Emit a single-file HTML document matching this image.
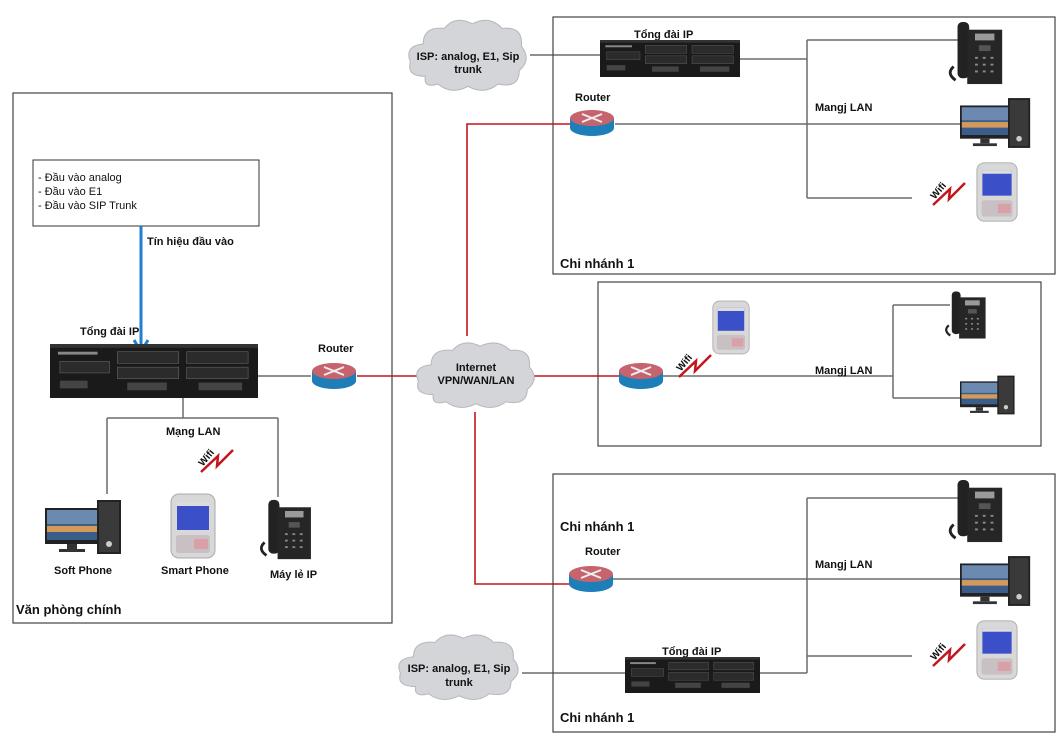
<!DOCTYPE html>
<html><head><meta charset="utf-8"><style>
html,body{margin:0;padding:0;background:#fff}
svg{display:block}
text{font-family:"Liberation Sans",Arial,sans-serif;font-weight:bold;font-size:11px;fill:#111}
</style></head><body>
<svg width="1059" height="743" viewBox="0 0 1059 743" xmlns="http://www.w3.org/2000/svg">
<defs>
<symbol id="pbx" viewBox="0 0 210 56" preserveAspectRatio="none">
<rect x="0" y="0" width="210" height="56" fill="#1a1a1a"/>
<rect x="0" y="0" width="210" height="4" fill="#333"/>
<rect x="8" y="8" width="40" height="3" fill="#888"/>
<rect x="10" y="18" width="50" height="12" fill="#2b2b2b" stroke="#666" stroke-width="0.6"/>
<rect x="68" y="8" width="62" height="12" fill="#2b2b2b" stroke="#666" stroke-width="0.6"/>
<rect x="68" y="24" width="62" height="12" fill="#2b2b2b" stroke="#666" stroke-width="0.6"/>
<rect x="138" y="8" width="62" height="12" fill="#2b2b2b" stroke="#666" stroke-width="0.6"/>
<rect x="138" y="24" width="62" height="12" fill="#2b2b2b" stroke="#666" stroke-width="0.6"/>
<rect x="78" y="40" width="40" height="8" fill="#444"/>
<rect x="150" y="40" width="44" height="8" fill="#444"/>
<rect x="10" y="38" width="28" height="8" fill="#444"/>
</symbol>
<symbol id="router" viewBox="0 0 46 30">
<path d="M1 10 V20 A22 8 0 0 0 45 20 V10 Z" fill="#1e7fb8"/>
<ellipse cx="23" cy="10" rx="22" ry="8" fill="#c6636c"/>
<path d="M13 6 L33 14 M33 6 L13 14" stroke="#eee" stroke-width="2"/>
</symbol>
<symbol id="phone" viewBox="0 0 60 68">
<path d="M10 62 Q0 55 8 48" stroke="#222" stroke-width="3" fill="none"/>
<rect x="12" y="2" width="12" height="58" rx="5" fill="#222"/>
<rect x="22" y="10" width="36" height="56" fill="#262626"/>
<rect x="30" y="14" width="20" height="7" fill="#9a9a9a"/>
<rect x="34" y="26" width="12" height="6" fill="#555"/>
<g fill="#888"><rect x="30" y="38" width="3" height="2"/><rect x="38" y="38" width="3" height="2"/><rect x="46" y="38" width="3" height="2"/><rect x="30" y="45" width="3" height="2"/><rect x="38" y="45" width="3" height="2"/><rect x="46" y="45" width="3" height="2"/><rect x="30" y="52" width="3" height="2"/><rect x="38" y="52" width="3" height="2"/><rect x="46" y="52" width="3" height="2"/></g>
</symbol>
<symbol id="pc" viewBox="0 0 78 54">
<rect x="0" y="8" width="54" height="36" fill="#222"/>
<rect x="2" y="10" width="50" height="30" fill="#3b5d8a"/>
<rect x="2" y="10" width="50" height="14" fill="#6c89b0"/>
<rect x="2" y="26" width="50" height="6" fill="#d49a5a"/>
<rect x="22" y="44" width="10" height="5" fill="#333"/>
<rect x="14" y="49" width="26" height="3" fill="#333"/>
<rect x="52" y="0" width="24" height="54" fill="#222"/>
<rect x="54" y="2" width="20" height="50" fill="#3a3a3a"/>
<circle cx="64" cy="44" r="3" fill="#ccc"/>
</symbol>
<symbol id="smart" viewBox="0 0 46 66">
<rect x="1" y="1" width="44" height="64" rx="8" fill="#d8d8d8" stroke="#aaa"/>
<rect x="7" y="9" width="32" height="28" fill="#3b4fc8"/>
<rect x="7" y="9" width="32" height="4" fill="#ddd"/>
<rect x="6" y="42" width="34" height="18" rx="3" fill="#c9c0c4"/>
<rect x="24" y="46" width="14" height="10" fill="#d9a0a8"/>
</symbol>
<g id="wifi"><path d="M0 20 L17 4 L16 14 L32 -2" stroke="#c3161c" stroke-width="2.5" fill="none"/><text x="-4" y="10" transform="rotate(-50 4 6)" style="font-size:10px">Wifi</text></g>
<symbol id="cloud" viewBox="0 0 120 70" preserveAspectRatio="none">
<path d="M20 55 Q2 55 6 42 Q0 28 18 26 Q18 10 38 12 Q48 0 64 8 Q80 0 92 12 Q112 10 110 28 Q120 40 108 50 Q108 66 88 62 Q76 72 60 64 Q44 72 32 62 Q18 66 20 55 Z" fill="#d4d5d9" stroke="#b8b9bd"/>
</symbol>
</defs>

<!-- connections -->
<g stroke="#6b6b6b" stroke-width="1.5" fill="none">
<!-- main -->
<path d="M258 376 H311"/>
<path d="M183 398 V418 M107 418 H278 M107 418 V494 M278 418 V497"/>
<!-- branch 1 -->
<path d="M530 55 H602"/>
<path d="M740 59 H807 M807 40 V198 M807 40 H960 M807 198 H912 M615 124 H960"/>
<!-- branch 2 -->
<path d="M663 376 H893 M893 305 V398 M893 305 H950 M893 398 H962"/>
<!-- branch 3 -->
<path d="M613 579 H960 M807 498 V673 M807 498 H960 M807 656 H912 M760 673 H807 M522 673 H625"/>
</g>
<g stroke="#c3161c" stroke-width="1.6" fill="none">
<path d="M357 376 H418"/>
<path d="M467 336 V124 H575"/>
<path d="M530 376 H622"/>
<path d="M475 412 V584 H572"/>
</g>
<!-- boxes -->
<g stroke="#444" stroke-width="1.2" fill="none">
<rect x="13" y="93" width="379" height="530"/>
<rect x="553" y="17" width="502" height="257"/>
<rect x="598" y="282" width="443" height="164"/>
<rect x="553" y="474" width="502" height="258"/>
</g>
<rect x="33" y="160" width="226" height="66" fill="#fff" stroke="#333"/>
<text x="38" y="181" style="font-weight:normal">- Đầu vào analog</text>
<text x="38" y="195" style="font-weight:normal">- Đầu vào E1</text>
<text x="38" y="209" style="font-weight:normal">- Đầu vào SIP Trunk</text>
<!-- blue arrow -->
<path d="M141 226 V350" stroke="#1f7fd0" stroke-width="3"/>
<path d="M134 340 L141 352 L148 340" stroke="#1f7fd0" stroke-width="3" fill="none"/>
<text x="147" y="245">Tín hiệu đầu vào</text>

<!-- main office -->
<text x="80" y="335">Tổng đài IP</text>
<use href="#pbx" x="50" y="344" width="208" height="54"/>
<text x="318" y="352">Router</text>
<use href="#router" x="311" y="361" width="46" height="30"/>
<text x="166" y="435">Mạng LAN</text>
<use href="#wifi" transform="translate(201,452)"/>
<use href="#pc" x="45" y="500" width="78" height="54"/>
<use href="#smart" x="170" y="493" width="46" height="66"/>
<use href="#phone" x="252" y="498" width="66" height="63"/>
<text x="54" y="574">Soft Phone</text>
<text x="161" y="574">Smart Phone</text>
<text x="270" y="578">Máy lẻ IP</text>
<text x="16" y="614" style="font-size:13px">Văn phòng chính</text>

<!-- internet cloud -->
<use href="#cloud" x="412" y="338" width="128" height="72"/>
<text x="476" y="371" text-anchor="middle">Internet</text>
<text x="476" y="384" text-anchor="middle">VPN/WAN/LAN</text>

<!-- branch 1 -->
<use href="#cloud" x="404" y="15" width="128" height="78"/>
<text x="468" y="60" text-anchor="middle">ISP: analog, E1, Sip</text>
<text x="468" y="73" text-anchor="middle">trunk</text>
<text x="634" y="38">Tổng đài IP</text>
<use href="#pbx" x="600" y="40" width="140" height="37"/>
<text x="575" y="101">Router</text>
<use href="#router" x="569" y="108" width="46" height="30"/>
<text x="815" y="111">Mangj LAN</text>
<use href="#phone" x="942" y="20" width="66" height="66"/>
<use href="#pc" x="960" y="96" width="72" height="54"/>
<use href="#wifi" transform="translate(933,185)"/>
<use href="#smart" x="976" y="160" width="42" height="64"/>
<text x="560" y="268" style="font-size:13px">Chi nhánh 1</text>

<!-- branch 2 -->
<use href="#router" x="618" y="361" width="46" height="30"/>
<use href="#smart" x="712" y="299" width="38" height="57"/>
<use href="#wifi" transform="translate(679,357)"/>
<text x="815" y="374">Mangj LAN</text>
<use href="#phone" x="937" y="290" width="56" height="50"/>
<use href="#pc" x="960" y="375" width="56" height="40"/>

<!-- branch 3 -->
<text x="560" y="531" style="font-size:13px">Chi nhánh 1</text>
<text x="585" y="555">Router</text>
<use href="#router" x="568" y="564" width="46" height="30"/>
<text x="815" y="568">Mangj LAN</text>
<use href="#phone" x="942" y="478" width="66" height="66"/>
<use href="#pc" x="960" y="554" width="72" height="54"/>
<use href="#wifi" transform="translate(933,646)"/>
<use href="#smart" x="976" y="617" width="42" height="66"/>
<use href="#cloud" x="394" y="630" width="130" height="72"/>
<text x="459" y="672" text-anchor="middle">ISP: analog, E1, Sip</text>
<text x="459" y="686" text-anchor="middle">trunk</text>
<text x="662" y="655">Tổng đài IP</text>
<use href="#pbx" x="625" y="657" width="135" height="36"/>
<text x="560" y="722" style="font-size:13px">Chi nhánh 1</text>
</svg>
</body></html>
